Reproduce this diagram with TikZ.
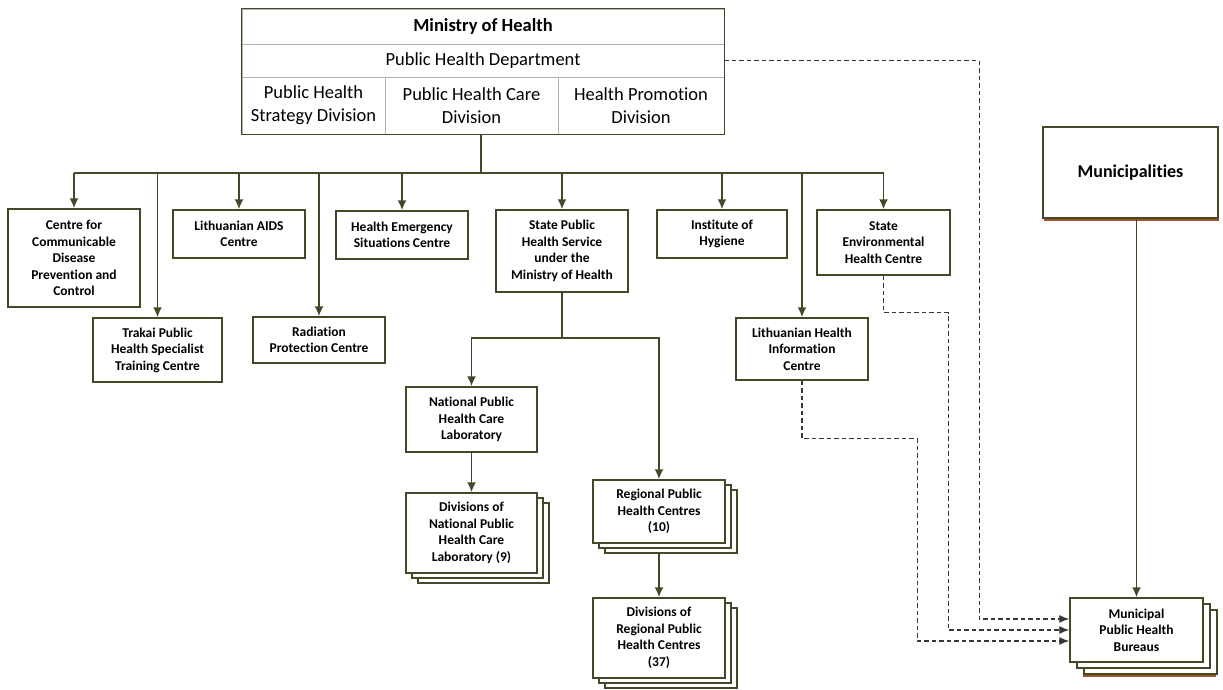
\documentclass[tikz,border=0pt]{standalone}
\usepackage{fontspec}
\setmainfont{Carlito}[Ligatures=NoCommon]
\usetikzlibrary{arrows.meta,calc,shadows}
\definecolor{boxline}{RGB}{70,70,40}
\definecolor{shadebrown}{RGB}{160,85,40}
\definecolor{dashgray}{RGB}{55,55,55}
\tikzset{
	unit/.style={draw=boxline, line width=1.5pt, fill=white, align=center, inner sep=2pt, font=\fontsize{13.5}{16.5}\selectfont\bfseries},
	stack/.style={unit, double copy shadow={shadow xshift=6pt, shadow yshift=-5pt, draw=boxline, fill=white, line width=1.5pt}},
	cell/.style={draw=gray!60, line width=0.7pt, align=center, inner sep=0pt, font=\fontsize{18.5}{23}\selectfont},
	feed/.style={boxline, line width=1.7pt, -{Latex[length=10pt,width=9pt]}},
	link/.style={boxline, line width=1.7pt},
	report/.style={dashgray, line width=1.1pt, dash pattern=on 4.5pt off 3pt, -{Latex[length=10pt,width=8pt]}}
}

\begin{document}
\begin{tikzpicture}[x=1pt,y=-1pt]
			%%%%% START %%%%%
			\useasboundingbox (0,0) rectangle (1223,690);
			
			% ministry table
			\node[cell, minimum width=482pt, minimum height=35pt, font=\fontsize{18.5}{23}\selectfont\bfseries] (ministry) at (483,26.5) {Ministry of Health};
			\node[cell, minimum width=482pt, minimum height=33pt] (phd) at (483,60.5) {Public Health Department};
			\node[cell, minimum width=143pt, minimum height=57pt] (div1) at (313.5,105.5) {Public Health\\Strategy Division};
			\node[cell, minimum width=173pt, minimum height=57pt] (div2) at (471.5,105.5) {Public Health Care\\Division};
			\node[cell, minimum width=166pt, minimum height=57pt] (div3) at (641,105.5) {Health Promotion\\Division};
			\draw[boxline, line width=1.6pt] (ministry.north west) rectangle (div3.south east);
			
			% first row
			\node[unit, minimum width=132pt, minimum height=98pt] (ccdpc) at (74,258) {Centre for\\Communicable\\Disease\\Prevention and\\Control};
			\node[unit, minimum width=132pt, minimum height=48pt] (aids) at (239,234) {Lithuanian AIDS\\Centre};
			\node[unit, minimum width=132pt, minimum height=48pt] (emergency) at (402,235) {Health Emergency\\Situations Centre};
			\node[unit, minimum width=132pt, minimum height=82pt] (sphs) at (562,251) {State Public\\Health Service\\under the\\Ministry of Health};
			\node[unit, minimum width=130pt, minimum height=48pt] (hygiene) at (722,234) {Institute of\\Hygiene};
			\node[unit, minimum width=133pt, minimum height=65pt] (senv) at (883.5,242.5) {State\\Environmental\\Health Centre};
			
			% second row
			\node[unit, minimum width=129pt, minimum height=64pt] (trakai) at (157.5,350) {Trakai Public\\Health Specialist\\Training Centre};
			\node[unit, minimum width=132pt, minimum height=46pt] (radiation) at (319,340) {Radiation\\Protection Centre};
			\node[unit, minimum width=132pt, minimum height=62pt] (lhic) at (802,349) {Lithuanian Health\\Information\\Centre};
			
			% under state public health service
			\node[unit, minimum width=131pt, minimum height=65pt] (nplab) at (471.5,419.5) {National Public\\Health Care\\Laboratory};
			\node[stack, minimum width=131pt, minimum height=80pt] (divnpl) at (471.5,533) {Divisions of\\National Public\\Health Care\\Laboratory (9)};
			\node[stack, minimum width=132pt, minimum height=63pt] (regional) at (659,511.5) {Regional Public\\Health Centres\\(10)};
			\node[stack, minimum width=132pt, minimum height=80pt] (divreg) at (659,638) {Divisions of\\Regional Public\\Health Centres\\(37)};
			
			% municipalities
			\node[unit, minimum width=175pt, minimum height=91pt, font=\fontsize{18}{22}\selectfont\bfseries, general shadow={fill=shadebrown, shadow xshift=1pt, shadow yshift=-3pt}] (muni) at (1130.5,172.5) {Municipalities};
			\node[unit, minimum width=133pt, minimum height=64pt, general shadow={fill=shadebrown, shadow xshift=13pt, shadow yshift=-15pt}, double copy shadow={shadow xshift=7pt, shadow yshift=-6pt, draw=boxline, fill=white, line width=1.5pt}] (bureau) at (1136.5,630) {Municipal\\Public Health\\Bureaus};
			
			% bus under the ministry
			\coordinate (bus) at (481,173);
			\draw[link] (div2.south -| bus) -- (bus);
			\draw[link] (ccdpc.north |- bus) -- (senv.north |- bus);
			\draw[feed] (ccdpc.north |- bus) -- (ccdpc.north);
			\draw[feed] (trakai.north |- bus) -- (trakai.north);
			\draw[feed] (aids.north |- bus) -- (aids.north);
			\draw[feed] (radiation.north |- bus) -- (radiation.north);
			\draw[feed] (emergency.north |- bus) -- (emergency.north);
			\draw[feed] (sphs.north |- bus) -- (sphs.north);
			\draw[feed] (hygiene.north |- bus) -- (hygiene.north);
			\draw[feed] (lhic.north |- bus) -- (lhic.north);
			\draw[feed] (senv.north |- bus) -- (senv.north);
			
			% state public health service branch
			\draw[link] (sphs.south) -- ++(0,45) coordinate (fork);
			\draw[feed] (fork) -| (nplab.north);
			\draw[feed] (fork) -| (regional.north);
			\draw[feed] (nplab) -- (divnpl);
			\draw[feed] ($(regional.south)+(0,10)$) -- (divreg.north);
			
			% municipalities to bureaus
			\draw[feed] (muni.south -| bureau.north) -- (bureau.north);
			
			% dashed reporting lines
			\draw[report] (phd.east) -| ($(bureau.west)+(-90,-11)$) -- ($(bureau.west)+(0,-11)$);
			\draw[report] (senv.south) -- ++(0,37) -| ($(bureau.west)+(-121,0)$) -- (bureau.west);
			\draw[report] (lhic.south) -- ++(0,58) -| ($(bureau.west)+(-152,11)$) -- ($(bureau.west)+(0,11)$);
			
			%%%%% END %%%%%
\end{tikzpicture}
\end{document}
